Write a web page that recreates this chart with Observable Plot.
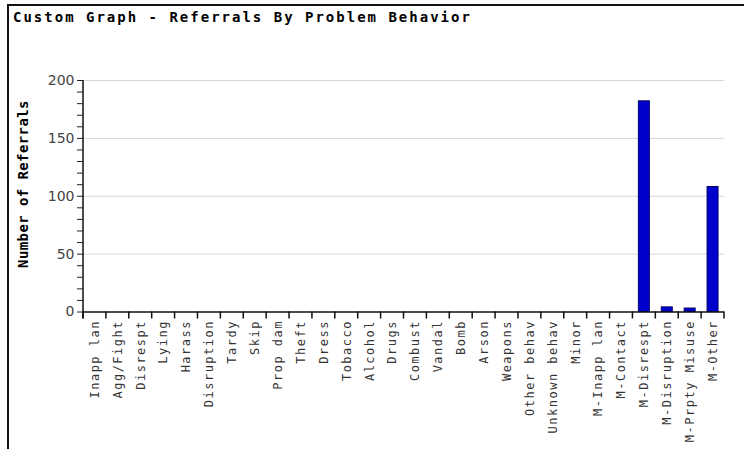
<!DOCTYPE html>
<html>
<head>
<meta charset="utf-8">
<script src="https://cdn.jsdelivr.net/npm/d3@7"></script>
<script src="https://cdn.jsdelivr.net/npm/@observablehq/plot@0.6"></script>
<style>
  html, body { margin: 0; padding: 0; background: #fff; }
  #wrap { position: absolute; left: 7px; top: 4px; width: 737px; height: 445px;
          border-top: 2px solid #111; border-left: 2px solid #111; }
  #title { height: 24px; padding-left: 4px; font-family: "DejaVu Sans Mono", monospace;
           font-weight: bold; font-size: 14px; letter-spacing: 2px; line-height: 22px; color: #000; }
  #ylabel { position: absolute; left: 13.5px; top: 178px; width: 0; height: 0; }
  #ylabel span { position: absolute; left: 0; top: 0; transform: translate(-50%, -50%) rotate(-90deg);
           white-space: nowrap; font-family: "DejaVu Sans Mono", monospace; font-weight: bold;
           font-size: 14px; letter-spacing: 0.4px; color: #000; display: block; transform-origin: center; }
  g[aria-label="x-axis tick label"] text { letter-spacing: 1.5px; }
  g[aria-label="y-axis tick label"] { font-size: 14px; font-family: "DejaVu Sans", sans-serif; }
</style>
</head>
<body>
<div id="wrap">
  <div id="title">Custom Graph - Referrals By Problem Behavior</div>
  <div id="ylabel"><span>Number of Referrals</span></div>
  <div id="chart"></div>
</div>
<script>
const categories = ["Inapp lan","Agg/Fight","Disrespt","Lying","Harass","Disruption","Tardy","Skip",
  "Prop dam","Theft","Dress","Tobacco","Alcohol","Drugs","Combust","Vandal","Bomb","Arson","Weapons",
  "Other behav","Unknown behav","Minor","M-Inapp lan","M-Contact","M-Disrespt","M-Disruption",
  "M-Prpty Misuse","M-Other"];
const referrals = [0,0,0,0,0,0,0,0,0,0,0,0,0,0,0,0,0,0,0,0,0,0,0,0,182,4,3,108];
const yTicks = [0,10,20,30,40,50,60,70,80,90,100,110,120,130,140,150,160,170,180,190,200];
const yLabelTicks = [0,50,100,150,200];
const gridTicks = [50,100,150,200];

const data = categories.map((c, i) => ({category: c, value: referrals[i]}));

const W = 735, H = 419, mL = 74, mR = 20, mT = 50, mB = 137.5;
const step = (W - mL - mR) / categories.length;
const barInset = step * 0.26;
const lw = 1.5;

const chart = Plot.plot({
  width: W, height: H,
  marginLeft: mL, marginRight: mR, marginTop: mT, marginBottom: mB,
  x: {domain: categories, padding: 0, align: 0.5, round: false},
  y: {domain: [0, 200]},
  style: {background: "#fff", color: "#222"},
  marks: [
    Plot.gridY(gridTicks, {stroke: "#d8d8d8", strokeOpacity: 1}),
    Plot.barY(data.filter(d => d.value > 0), {x: "category", y: "value", fill: "#0000cc", stroke: "#00006a",
      strokeWidth: 1, insetLeft: barInset, insetRight: barInset}),
    Plot.ruleY([0], {stroke: "#111", strokeWidth: lw}),
    // y axis line (left edge of first band)
    Plot.barY([categories[0]], {x: d => d, y1: 0, y2: 200, fill: "#111", insetLeft: -lw / 2, insetRight: step - lw / 2, insetBottom: -7}),
    // boundary ticks below the x axis
    Plot.barY(categories, {x: d => d, y1: 0, y2: 0, fill: "#111", insetLeft: -lw / 2, insetRight: step - lw / 2, insetBottom: -7}),
    Plot.barY([categories[categories.length - 1]], {x: d => d, y1: 0, y2: 0, fill: "#111", insetLeft: step - lw / 2, insetRight: -lw / 2, insetBottom: -7}),
    Plot.axisY({ticks: yTicks, tickSize: 6, tickPadding: 3,
      tickFormat: d => yLabelTicks.includes(d) ? String(d) : "",
      fontFamily: "DejaVu Sans", fontSize: 14, fill: "#444", label: null}),
    Plot.axisX({tickSize: 0, tickPadding: 8, tickRotate: -90, label: null,
      fontFamily: "DejaVu Sans Mono", fontSize: 12, fill: "#333"})
  ]
});
document.getElementById("chart").appendChild(chart);
</script>
</body>
</html>
